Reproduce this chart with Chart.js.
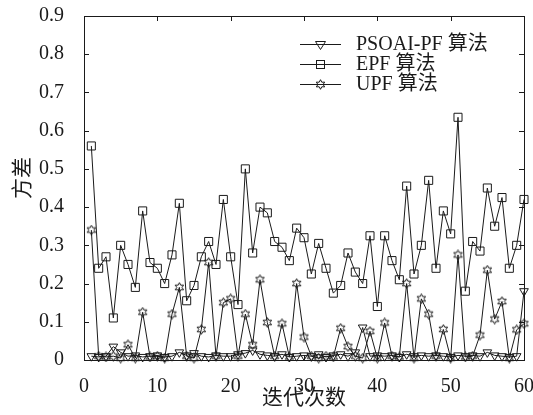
<!DOCTYPE html>
<html>
<head>
<meta charset="utf-8">
<script src="https://cdn.jsdelivr.net/npm/chart.js@4.4.0/dist/chart.umd.min.js"></script>
<style>
  html, body { margin: 0; padding: 0; background: #fff; }
  #box { width: 533px; height: 415px; }
</style>
</head>
<body>
<div id="box"><canvas id="grafica"></canvas></div>
<script>
// iteration numbers (x axis)
let iteraciones = [1, 2, 3, 4, 5, 6, 7, 8, 9, 10, 11, 12, 13, 14, 15, 16, 17, 18, 19, 20,
    21, 22, 23, 24, 25, 26, 27, 28, 29, 30, 31, 32, 33, 34, 35, 36, 37, 38, 39, 40,
    41, 42, 43, 44, 45, 46, 47, 48, 49, 50, 51, 52, 53, 54, 55, 56, 57, 58, 59, 60];

let psoaiPF = [0.01, 0.008, 0.01, 0.035, 0.02, 0.01, 0.012, 0.008, 0.01, 0.012,
    0.008, 0.01, 0.02, 0.012, 0.018, 0.01, 0.008, 0.012, 0.01, 0.01,
    0.015, 0.018, 0.025, 0.015, 0.012, 0.01, 0.015, 0.008, 0.01, 0.012,
    0.01, 0.015, 0.008, 0.012, 0.015, 0.01, 0.02, 0.085, 0.01, 0.012,
    0.01, 0.012, 0.008, 0.015, 0.01, 0.012, 0.01, 0.012, 0.01, 0.008,
    0.012, 0.01, 0.012, 0.01, 0.02, 0.012, 0.01, 0.008, 0.01, 0.18];

let epf = [0.56, 0.24, 0.27, 0.11, 0.30, 0.25, 0.19, 0.39, 0.255, 0.24,
    0.20, 0.275, 0.41, 0.155, 0.195, 0.27, 0.31, 0.25, 0.42, 0.27,
    0.145, 0.50, 0.28, 0.40, 0.385, 0.31, 0.295, 0.26, 0.345, 0.32,
    0.225, 0.305, 0.24, 0.175, 0.195, 0.28, 0.23, 0.20, 0.325, 0.14,
    0.325, 0.26, 0.21, 0.455, 0.225, 0.30, 0.47, 0.24, 0.39, 0.33,
    0.635, 0.18, 0.31, 0.285, 0.45, 0.35, 0.425, 0.24, 0.30, 0.42];

let upf = [0.34, 0.01, 0.008, 0.01, 0.005, 0.04, 0.005, 0.125, 0.008, 0.01,
    0.005, 0.12, 0.19, 0.01, 0.005, 0.08, 0.255, 0.01, 0.15, 0.16,
    0.01, 0.12, 0.04, 0.21, 0.098, 0.01, 0.095, 0.008, 0.20, 0.06,
    0.01, 0.005, 0.01, 0.008, 0.083, 0.035, 0.01, 0.005, 0.075, 0.005,
    0.097, 0.01, 0.008, 0.20, 0.005, 0.16, 0.12, 0.01, 0.08, 0.005,
    0.275, 0.008, 0.01, 0.065, 0.235, 0.107, 0.153, 0.005, 0.079, 0.095];

let nombres = ["PSOAI-PF 算法", "EPF 算法", "UPF 算法"];
let ticksX = [0, 10, 20, 30, 40, 50, 60];
let ticksY = [0, 0.1, 0.2, 0.3, 0.4, 0.5, 0.6, 0.7, 0.8, 0.9];
let tituloX = "迭代次数";
let tituloY = "方差";

const fuente = "'Liberation Serif', 'Times New Roman', 'Noto Sans CJK SC', serif";
const negro = "#1a1a1a";

function puntos(valores) {
    return iteraciones.map((x, i) => ({ x: x, y: valores[i] }));
}

// small outlined six-point star used as marker for UPF
function hacerEstrella() {
    let c = document.createElement("canvas");
    c.width = 11;
    c.height = 11;
    let g = c.getContext("2d");
    g.strokeStyle = negro;
    g.lineWidth = 1;
    g.beginPath();
    for (let k = 0; k < 12; k++) {
        let r = k % 2 === 0 ? 4.8 : 2.6;
        let a = -Math.PI / 2 + k * Math.PI / 6;
        let px = 5.5 + r * Math.cos(a);
        let py = 5.5 + r * Math.sin(a);
        if (k === 0) g.moveTo(px, py); else g.lineTo(px, py);
    }
    g.closePath();
    g.stroke();
    return c;
}
let estrella = hacerEstrella();

function dibujarMarca(ctx, tipo, x, y) {
    ctx.save();
    ctx.strokeStyle = negro;
    ctx.lineWidth = 1;
    if (tipo === 0) {
        ctx.beginPath();
        ctx.moveTo(x - 5, y - 3);
        ctx.lineTo(x + 5, y - 3);
        ctx.lineTo(x, y + 5);
        ctx.closePath();
        ctx.stroke();
    } else if (tipo === 1) {
        ctx.strokeRect(x - 4, y - 4, 8, 8);
    } else {
        ctx.drawImage(estrella, x - 5.5, y - 5.5);
    }
    ctx.restore();
}

// frame, inward ticks, y title and legend
const marco = {
    id: "marco",
    afterDraw(chart) {
        const ctx = chart.ctx;
        const a = chart.chartArea;
        const sx = chart.scales.x;
        const sy = chart.scales.y;
        ctx.save();
        ctx.strokeStyle = negro;
        ctx.lineWidth = 1;
        ctx.strokeRect(a.left + 0.5, a.top + 0.5, a.right - a.left, a.bottom - a.top);
        ctx.beginPath();
        for (let v of ticksX) {
            let px = Math.round(sx.getPixelForValue(v)) + 0.5;
            ctx.moveTo(px, a.bottom);
            ctx.lineTo(px, a.bottom - 5);
            ctx.moveTo(px, a.top);
            ctx.lineTo(px, a.top + 5);
        }
        for (let v of ticksY) {
            let py = Math.round(sy.getPixelForValue(v)) + 0.5;
            ctx.moveTo(a.left, py);
            ctx.lineTo(a.left + 5, py);
            ctx.moveTo(a.right, py);
            ctx.lineTo(a.right - 5, py);
        }
        ctx.stroke();

        ctx.fillStyle = negro;
        ctx.textBaseline = "middle";

        // y axis title, a bit above the middle as in the paper figure
        ctx.save();
        ctx.translate(23, 178);
        ctx.rotate(-Math.PI / 2);
        ctx.textAlign = "center";
        ctx.font = "21px " + fuente;
        ctx.fillText(tituloY, 0, 0);
        ctx.restore();

        // legend
        let filas = [44, 64, 84];
        ctx.font = "20px " + fuente;
        for (let i = 0; i < nombres.length; i++) {
            let fy = filas[i] + 0.5;
            ctx.beginPath();
            ctx.moveTo(300, fy);
            ctx.lineTo(341, fy);
            ctx.stroke();
            dibujarMarca(ctx, i, 320.5, fy);
            ctx.fillText(nombres[i], 356, filas[i] + 1);
        }
        ctx.restore();
    }
};

let chartConfig = {
    type: "line",
    data: {
        datasets: [{
            label: nombres[0],
            data: puntos(psoaiPF),
            borderColor: negro,
            borderWidth: 1,
            pointStyle: "triangle",
            pointRotation: 180,
            pointRadius: 5,
            pointBorderWidth: 1,
            pointBorderColor: negro,
            pointBackgroundColor: "rgba(0,0,0,0)",
            clip: false
        }, {
            label: nombres[1],
            data: puntos(epf),
            borderColor: negro,
            borderWidth: 1,
            pointStyle: "rect",
            pointRadius: 5.7,
            pointBorderWidth: 1,
            pointBorderColor: negro,
            pointBackgroundColor: "rgba(0,0,0,0)",
            clip: false
        }, {
            label: nombres[2],
            data: puntos(upf),
            borderColor: negro,
            borderWidth: 1,
            pointStyle: estrella,
            pointRadius: 5,
            clip: false
        }]
    },
    options: {
        responsive: false,
        animation: false,
        layout: { padding: { top: 16, right: 9, left: 0, bottom: 0 } },
        plugins: {
            legend: { display: false },
            tooltip: { enabled: false }
        },
        scales: {
            x: {
                type: "linear",
                min: 0,
                max: 60,
                afterBuildTicks: (s) => { s.ticks = ticksX.map(v => ({ value: v })); },
                afterFit: (s) => { s.height = 55; s.paddingLeft = 0; s.paddingRight = 0; },
                grid: { display: false },
                border: { display: false },
                ticks: { color: negro, font: { family: fuente, size: 20 }, padding: 7, maxRotation: 0 },
                title: { display: true, text: tituloX, color: negro, font: { family: fuente, size: 21 }, padding: { bottom: 4 } }
            },
            y: {
                min: 0,
                max: 0.9,
                afterBuildTicks: (s) => { s.ticks = ticksY.map(v => ({ value: v })); },
                afterFit: (s) => { s.width = 84; s.paddingTop = 0; s.paddingBottom = 0; },
                grid: { display: false },
                border: { display: false },
                ticks: {
                    color: negro,
                    font: { family: fuente, size: 20 },
                    padding: 12,
                    callback: (v) => v === 0 ? "0" : v.toFixed(1)
                }
            }
        }
    },
    plugins: [marco]
};

let miCanvas = document.getElementById("grafica");
miCanvas.width = 533;
miCanvas.height = 415;
let chart = new Chart(miCanvas.getContext("2d"), chartConfig);
</script>
</body>
</html>
